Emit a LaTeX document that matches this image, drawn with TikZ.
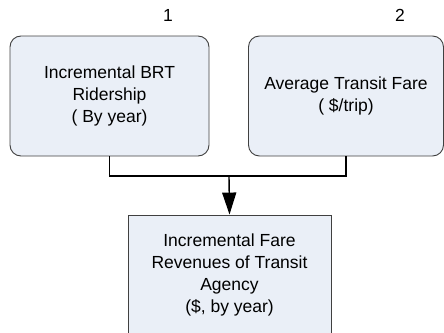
\documentclass[tikz,border=0pt]{standalone}
\usepackage{fontspec}
\setmainfont{Liberation Sans}
\usetikzlibrary{arrows.meta}
\definecolor{boxfill}{HTML}{EAEFF7}
\definecolor{boxline}{HTML}{404040}
\tikzset{
  x=1pt, y=-1pt,
  label font/.style={font=\fontsize{17.5}{21.7}\selectfont},
  inputbox/.style={draw=boxline, fill=boxfill, line width=0.9pt, rounded corners=11pt,
    minimum width=#1, minimum height=120pt, align=center, inner sep=0pt, label font},
  resultbox/.style={draw=boxline, fill=boxfill, line width=0.9pt,
    minimum width=203pt, minimum height=120pt, align=center, inner sep=0pt, label font},
  link/.style={line width=1.4pt, black},
  numtag/.style={label font, inner sep=0pt}
}
\begin{document}
\begin{tikzpicture}
\useasboundingbox (0,0) rectangle (444,332);
\clip (0,0) rectangle (444,332);
\node[inputbox=199pt] (b1) at (109.5,96) {Incremental BRT\\Ridership\\( By year)};
\node[inputbox=195pt] (b2) at (346,96) {Average Transit Fare\\( \$/trip)};
\node[resultbox] (b3) at (229.5,275) {Incremental Fare\\Revenues of Transit\\Agency\\(\$, by year)};
\node[numtag] (n1) at (168,15) {1};
\node[numtag] (n2) at (400,15) {2};
\coordinate (j) at (229,176);
\draw[link] (b1.south) |- (j) -| (b2.south);
\draw[link, -{Triangle[length=22pt,width=14pt]}] (j) -- (b3.north);
\end{tikzpicture}
\end{document}
